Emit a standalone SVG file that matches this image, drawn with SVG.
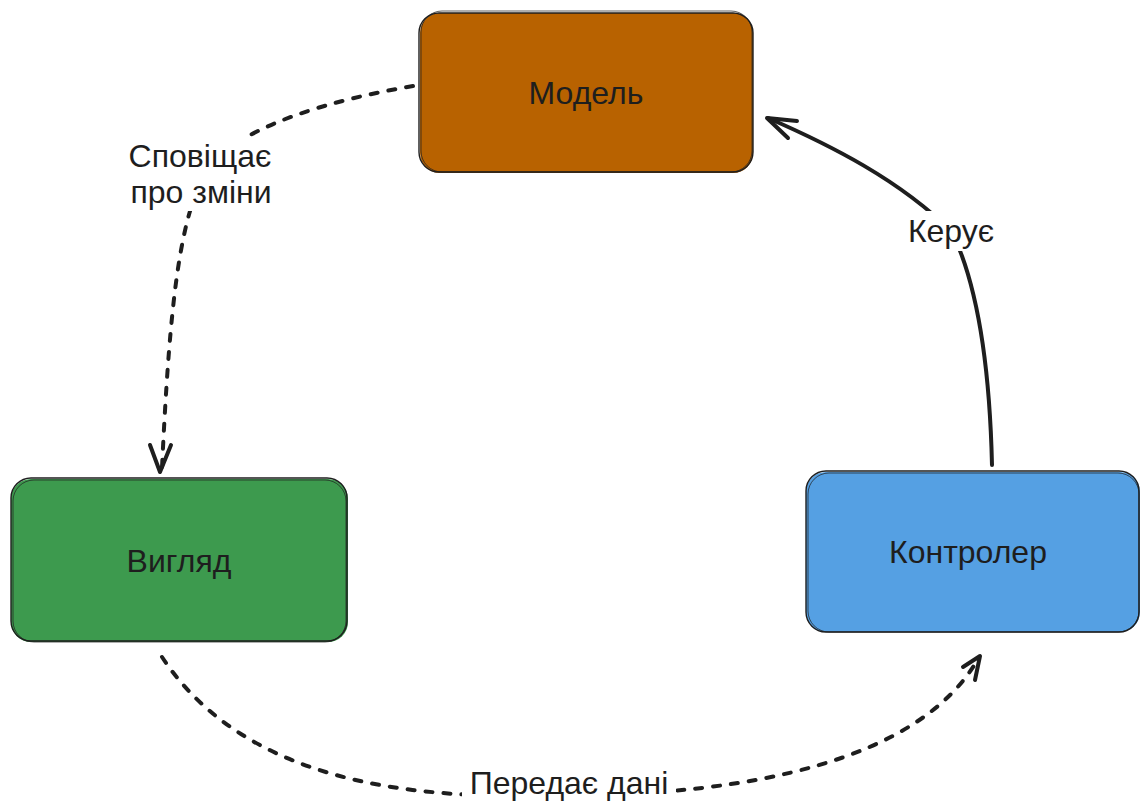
<svg xmlns="http://www.w3.org/2000/svg" width="1140" height="802" viewBox="0 0 1140 802">
  <style>
    .lbl { font-family: "Liberation Sans", Arial, sans-serif; font-size: 32px; fill: #1e1e1e; text-anchor: middle; }
    .edge { fill: none; stroke: #1e1e1e; stroke-width: 4; stroke-linecap: round; stroke-linejoin: round; }
    .dash { stroke-dasharray: 7 11; }
    .outline { fill: none; stroke: #1e1e1e; stroke-width: 1.4; }
    .outline2 { fill: none; stroke: #1e1e1e; stroke-width: 0.9; opacity: 0.8; }
    .halo { fill: #ffffff; }
  </style>

  <rect width="1140" height="802" fill="#ffffff"/>

  <!-- Model -->
  <g id="node-model">
    <rect x="420" y="13" width="333" height="160" rx="20" fill="#b86200"/>
    <rect class="outline" x="419" y="13" width="334" height="159" rx="20"/>
    <rect class="outline2" x="421" y="11" width="331" height="161" rx="21"/>
    <text class="lbl" x="586" y="104">Модель</text>
  </g>

  <!-- View -->
  <g id="node-view">
    <rect x="11" y="479" width="337" height="163" rx="20" fill="#3d9a4e"/>
    <rect class="outline" x="11" y="478" width="336" height="163" rx="20"/>
    <rect class="outline2" x="13" y="480" width="333" height="162" rx="21"/>
    <text class="lbl" x="179" y="572">Вигляд</text>
  </g>

  <!-- Controller -->
  <g id="node-controller">
    <rect x="806" y="472" width="334" height="160" rx="20" fill="#55a0e3"/>
    <rect class="outline" x="806" y="471" width="333" height="161" rx="20"/>
    <rect class="outline2" x="808" y="473" width="331" height="159" rx="21"/>
    <text class="lbl" x="968" y="563">Контролер</text>
  </g>

  <!-- Connectors -->
  <g id="connectors">
    <!-- Model -> View (dashed) -->
    <path class="edge dash" d="M413,86 C330,100 250,125 215,160 C180,200 170,300 162,468"/>
    <path class="edge" d="M150,445 L160,472 L171,445"/>

    <!-- Controller -> Model (solid) -->
    <path class="edge" d="M992,465 C990,380 980,290 952,232 C900,180 830,145 768,118"/>
    <path class="edge" d="M797,121 L767,118 L788,138"/>

    <!-- View -> Controller (dashed) -->
    <path class="edge dash" d="M162,657 C250,790 430,800 570,795 C750,795 920,760 978,659"/>
    <path class="edge" d="M963,667 L980,656 L975,680"/>

    <!-- edge labels -->
    <rect class="halo" x="116" y="137" width="166" height="74"/>
    <text class="lbl" x="200" y="167">Сповіщає</text>
    <text class="lbl" x="201" y="203">про зміни</text>

    <rect class="halo" x="900" y="211" width="104" height="40"/>
    <text class="lbl" x="951" y="242">Керує</text>

    <rect class="halo" x="462" y="770" width="214" height="32"/>
    <text class="lbl" x="569" y="794">Передає дані</text>
  </g>
</svg>
